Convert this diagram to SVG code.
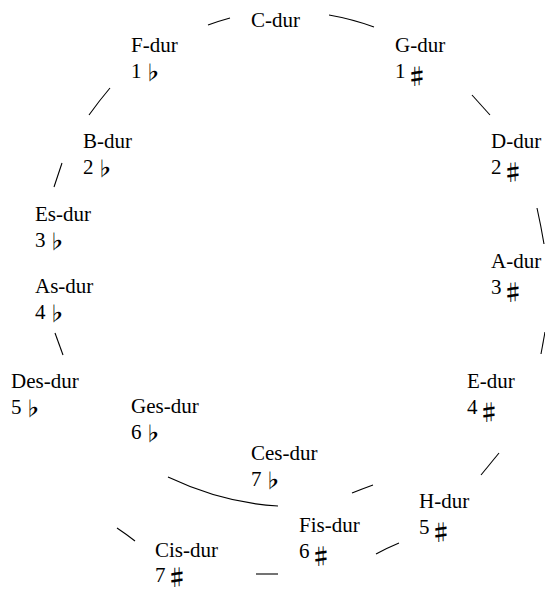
<svg xmlns="http://www.w3.org/2000/svg" width="545" height="592" viewBox="0 0 545 592">
<style>
.lbl{font-family:'Liberation Serif','DejaVu Serif',serif;font-size:21px;fill:#000}
.acc{font-family:'Noto Sans CJK JP','DejaVu Sans',sans-serif;font-size:19px;fill:#000;font-weight:bold}
.sh{font-size:22px}
#connectors path{fill:none;stroke:#000;stroke-width:1.1}
</style>
<rect width="545" height="592" fill="#fff"/>
<g id="connectors">
<path d="M208,25 Q219,21 230,18"/>
<path d="M329,15 Q352,19 374,27"/>
<path d="M110,88 Q99,101 89,115"/>
<path d="M62,163 Q58,175 54,187"/>
<path d="M472,95 Q481,105 490,115"/>
<path d="M537,208 Q541,226 544,244"/>
<path d="M545,332 Q543,343 541,354"/>
<path d="M55,333 Q59,344 63,355"/>
<path d="M168,477 Q223,503 278,506"/>
<path d="M352,493 Q362,489 373,485"/>
<path d="M499,453 Q490,464 481,475"/>
<path d="M399,543 Q387,548 376,554"/>
<path d="M117,528 Q126,534 135,541"/>
<path d="M256,574 L278,574"/>
</g>
<g id="n-C"><text class="lbl" x="251" y="27">C-dur</text></g>
<g id="n-F"><text class="lbl" x="131" y="52">F-dur</text><text class="lbl" x="131" y="78">1</text><text class="acc" x="143" y="80">♭</text></g>
<g id="n-G"><text class="lbl" x="395" y="52">G-dur</text><text class="lbl" x="395" y="78">1</text><text class="acc sh" x="406" y="84">♯</text></g>
<g id="n-B"><text class="lbl" x="83" y="148">B-dur</text><text class="lbl" x="83" y="174">2</text><text class="acc" x="95" y="176">♭</text></g>
<g id="n-D"><text class="lbl" x="491" y="148">D-dur</text><text class="lbl" x="491" y="174">2</text><text class="acc sh" x="502" y="180">♯</text></g>
<g id="n-Es"><text class="lbl" x="35" y="221">Es-dur</text><text class="lbl" x="35" y="247">3</text><text class="acc" x="47" y="249">♭</text></g>
<g id="n-A"><text class="lbl" x="491" y="268">A-dur</text><text class="lbl" x="491" y="294">3</text><text class="acc sh" x="502" y="300">♯</text></g>
<g id="n-As"><text class="lbl" x="35" y="293">As-dur</text><text class="lbl" x="35" y="319">4</text><text class="acc" x="47" y="321">♭</text></g>
<g id="n-Des"><text class="lbl" x="11" y="388">Des-dur</text><text class="lbl" x="11" y="414">5</text><text class="acc" x="23" y="416">♭</text></g>
<g id="n-E"><text class="lbl" x="467" y="388">E-dur</text><text class="lbl" x="467" y="414">4</text><text class="acc sh" x="478" y="420">♯</text></g>
<g id="n-Ges"><text class="lbl" x="131" y="413">Ges-dur</text><text class="lbl" x="131" y="439">6</text><text class="acc" x="143" y="441">♭</text></g>
<g id="n-Ces"><text class="lbl" x="251" y="460">Ces-dur</text><text class="lbl" x="251" y="486">7</text><text class="acc" x="263" y="488">♭</text></g>
<g id="n-H"><text class="lbl" x="419" y="508">H-dur</text><text class="lbl" x="419" y="534">5</text><text class="acc sh" x="430" y="540">♯</text></g>
<g id="n-Fis"><text class="lbl" x="299" y="532">Fis-dur</text><text class="lbl" x="299" y="558">6</text><text class="acc sh" x="310" y="564">♯</text></g>
<g id="n-Cis"><text class="lbl" x="155" y="557">Cis-dur</text><text class="lbl" x="155" y="582">7</text><text class="acc sh" x="166" y="585">♯</text></g>
</svg>
